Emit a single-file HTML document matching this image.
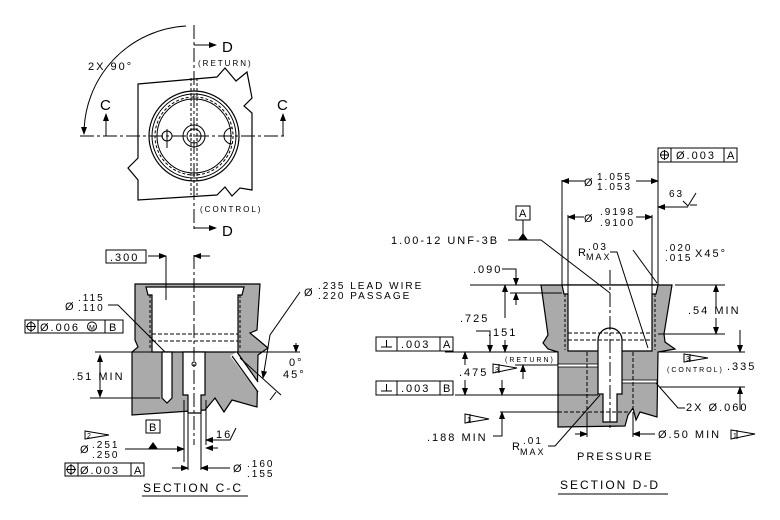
<!DOCTYPE html>
<html><head><meta charset="utf-8"><style>
body{margin:0;background:#fff}
svg{display:block}
text{font-family:"Liberation Sans",sans-serif;letter-spacing:2px;fill:#000}
</style></head><body>
<svg width="780" height="520" viewBox="0 0 780 520" xmlns="http://www.w3.org/2000/svg" font-size="11">
<defs><marker id="a" markerWidth="8" markerHeight="6" refX="7" refY="3" orient="auto" markerUnits="userSpaceOnUse"><path d="M0,0L8,3L0,6z" fill="#000"/></marker></defs>
<g fill="none" stroke="#000" stroke-width="1">
<path d="M138,84 L217,77 L225,68 L236,81 L247,72 L252,98 L244,106 L252,113 L252,190 L240,188 L232,196 L225,187 L217,195 L138,200 L138,180 L128,168 L138,158 Z" stroke-width="1.2"/>
<circle cx="194" cy="136" r="45" stroke-width="1.2"/>
<circle cx="194" cy="136" r="42"/>
<circle cx="194" cy="136" r="39" stroke-dasharray="3,2"/>
<circle cx="194" cy="136" r="37"/>
<circle cx="194" cy="136" r="11"/>
<circle cx="194" cy="136" r="7"/>
<circle cx="167" cy="136" r="5"/>
<path d="M232,128 A8,8 0 0 0 232,144" />
<line x1="167" y1="129" x2="167" y2="148"/>
<line x1="194" y1="25" x2="194" y2="230" stroke-dasharray="14,3,3,3"/>
<line x1="191" y1="78" x2="191" y2="195" stroke-dasharray="3,2"/>
<line x1="197" y1="78" x2="197" y2="195" stroke-dasharray="3,2"/>
<line x1="80" y1="136" x2="285" y2="136" stroke-dasharray="14,3,3,3"/>
<path d="M194,45 L216,45" marker-end="url(#a)"/>
<path d="M194,228 L216,228" marker-end="url(#a)"/>
<path d="M106,136 L106,114" marker-end="url(#a)"/>
<path d="M283,136 L283,114" marker-end="url(#a)"/>
<path d="M186,26 A108,108 0 0 0 84,134" marker-end="url(#a)"/>
</g>
<text x="222" y="52" font-size="15">D</text>
<text x="222" y="236" font-size="15">D</text>
<text x="100" y="110" font-size="15">C</text>
<text x="277" y="110" font-size="15">C</text>
<text x="88" y="70">2X 90°</text>
<text x="198" y="66" font-size="8">(RETURN)</text>
<text x="200" y="212" font-size="8">(CONTROL)</text>

<g stroke="#000" stroke-width="1.2">
<path fill="#aaa" d="M135,284 L260,284 L257,330 L250,333 L268,348 L258,355 L257,407 L232,400 L224,412 L215,398 L205,410 L132,415 L132,352 L138,347 L135,340 Z"/>
<path fill="#fff" d="M146,287 L244,287 L242,295 L238,295 L238,352 L152,352 L152,295 L148,295 Z"/>
<path fill="#fff" d="M237,352 L258,382 L258,392 L230,356 Z" stroke="none"/>
<path fill="none" d="M237,352 L258,382 M232,356 L258,392"/>
<path fill="#fff" d="M162,352 L172,352 L172,398 L167,403 L162,398 Z"/>
<path fill="#fff" d="M183,352 L205,352 L205,395 L201,395 L201,413 L188,413 L188,395 L183,395 Z"/>
</g>
<g fill="none" stroke="#000" stroke-width="1">
<line x1="150" y1="295" x2="150" y2="350" stroke-dasharray="3,2"/>
<line x1="240" y1="295" x2="240" y2="350" stroke-dasharray="3,2"/>
<line x1="152" y1="334" x2="238" y2="334" stroke-dasharray="4,2"/>
<line x1="152" y1="341" x2="238" y2="341" stroke-dasharray="4,2"/>
<circle cx="194" cy="364" r="2"/>
<line x1="194" y1="255" x2="194" y2="445" stroke-dasharray="14,3,3,3"/>
<line x1="166" y1="256" x2="166" y2="300"/>
<path d="M148,256 L166,256" marker-end="url(#a)"/>
<path d="M210,256 L194,256" marker-end="url(#a)"/>
<line x1="95" y1="352" x2="152" y2="352"/>
<line x1="238" y1="352" x2="300" y2="352"/>
<path d="M100,384 L100,355" marker-end="url(#a)"/>
<path d="M100,384 L100,397" marker-end="url(#a)"/>
<line x1="90" y1="398" x2="160" y2="398"/>
<path d="M108,305 L118,305 L165,352"/>
<line x1="184" y1="400" x2="184" y2="462"/>
<line x1="188" y1="413" x2="188" y2="470"/>
<line x1="201" y1="413" x2="201" y2="470"/>
<line x1="206" y1="400" x2="206" y2="445"/>
<path d="M125,449 L184,449" marker-end="url(#a)"/>
<path d="M172,468 L188,468" marker-end="url(#a)"/>
<path d="M230,468 L201,468" marker-end="url(#a)"/>
<path d="M222,440 L206,440" marker-end="url(#a)"/>
<path d="M218,448 L206,448" marker-end="url(#a)"/>
<path d="M215,440 L230,440 L236,428"/>
<path d="M300,292 L270,335 L263,378" marker-end="url(#a)"/>
<path d="M240,358 L281,395"/>
<path d="M276,392 L270,400"/>
<path d="M296,343 L296,352" marker-end="url(#a)"/>
<rect x="106" y="250" width="40" height="13"/>
<rect x="25" y="320" width="98" height="13"/>
<line x1="38" y1="320" x2="38" y2="333"/><line x1="105" y1="320" x2="105" y2="333"/>
<circle cx="31" cy="326.5" r="4"/><line x1="31" y1="321" x2="31" y2="332"/><line x1="26" y1="326.5" x2="36" y2="326.5"/>
<circle cx="92" cy="326.5" r="4.5"/>
<rect x="65" y="463" width="79" height="13"/>
<line x1="78" y1="463" x2="78" y2="476"/><line x1="131" y1="463" x2="131" y2="476"/>
<circle cx="71" cy="469.5" r="4"/><line x1="71" y1="464" x2="71" y2="475"/><line x1="66" y1="469.5" x2="76" y2="469.5"/>
<rect x="146" y="420" width="14" height="13"/>
<path d="M85,431 L109,435 L85,439 Z"/>
<line x1="142" y1="496" x2="248" y2="496"/>
</g>
<path d="M148,449 L153,442 L158,449 Z" fill="#000"/>
<text x="110" y="261">.300</text>
<text x="65" y="310">Ø</text><text x="78" y="301" font-size="10">.115</text><text x="78" y="311" font-size="10">.110</text>
<text x="40" y="331">Ø.006</text><text x="89" y="330" font-size="7" letter-spacing="0">M</text><text x="109" y="331">B</text>
<text x="72" y="380">.51 MIN</text>
<text x="149" y="431">B</text>
<text x="87" y="438" font-size="7">2</text>
<text x="80" y="453">Ø</text><text x="92" y="448" font-size="10">.251</text><text x="92" y="458" font-size="10">.250</text>
<text x="80" y="474">Ø.003</text><text x="134" y="474">A</text>
<text x="216" y="438">16</text>
<text x="233" y="472">Ø</text><text x="247" y="467" font-size="10">.160</text><text x="247" y="477" font-size="10">.155</text>
<text x="143" y="492" font-size="12" letter-spacing="3">SECTION C-C</text>
<text x="304" y="296">Ø</text><text x="318" y="289" font-size="10">.235 LEAD WIRE</text><text x="318" y="299" font-size="10">.220 PASSAGE</text>
<text x="289" y="366">0°</text><text x="283" y="378">45°</text>

<g stroke="#000" stroke-width="1.2">
<path fill="#aaa" d="M541,285 L672,285 L664,334 L665,342 L675,349 L658,352 L657,417 L640,412 L636,420 L633,408 L628,415 L625,426 L558,427 L558,352 L548,349 L543,343 L548,335 Z"/>
<path fill="#fff" d="M562,285 L658,285 L656,294 L652,294 L652,351 L568,351 L568,294 L564,294 Z"/>
</g>
<g stroke="#000" stroke-width="0.8" fill="#fff">
<rect x="558" y="364" width="40" height="3"/>
<rect x="622" y="380" width="35" height="3"/>
</g>
<path fill="#fff" stroke="#000" stroke-width="1.2" d="M598,340 A12,12 0 0 1 622,340 L622,394 L617,394 L617,422 L603,422 L603,394 L598,394 Z"/>
<g fill="none" stroke="#000" stroke-width="1">
<line x1="565" y1="294" x2="565" y2="350" stroke-dasharray="3,2"/>
<line x1="655" y1="294" x2="655" y2="350" stroke-dasharray="3,2"/>
<line x1="568" y1="333" x2="652" y2="333" stroke-dasharray="4,2"/>
<line x1="568" y1="340" x2="652" y2="340" stroke-dasharray="4,2"/>
<line x1="587" y1="352" x2="587" y2="412" stroke-dasharray="4,2"/>
<line x1="633" y1="352" x2="633" y2="412" stroke-dasharray="4,2"/>
<line x1="558" y1="412" x2="630" y2="412" stroke-dasharray="4,2"/>
<line x1="610" y1="270" x2="610" y2="430" stroke-dasharray="14,3,3,3"/>
<line x1="470" y1="285" x2="541" y2="285"/>
<line x1="675" y1="285" x2="725" y2="285"/>
<line x1="510" y1="293" x2="562" y2="293"/>
<line x1="445" y1="352" x2="558" y2="352"/>
<line x1="658" y1="352" x2="745" y2="352"/>
<line x1="455" y1="395" x2="598" y2="395"/>
<line x1="660" y1="387" x2="745" y2="387"/>
<line x1="500" y1="412" x2="560" y2="412"/>
<line x1="658" y1="334" x2="725" y2="334"/>
<line x1="515" y1="365" x2="558" y2="365"/>
<line x1="562" y1="180" x2="562" y2="285"/>
<line x1="658" y1="148" x2="658" y2="285"/>
<line x1="568" y1="215" x2="568" y2="294"/>
<line x1="652" y1="215" x2="652" y2="294"/>
<path d="M585,181 L562,181" marker-end="url(#a)"/>
<path d="M636,181 L658,181" marker-end="url(#a)"/>
<path d="M584,217 L568,217" marker-end="url(#a)"/>
<path d="M636,217 L652,217" marker-end="url(#a)"/>
<path d="M688,207 L658,207" marker-end="url(#a)"/>
<path d="M508,240 L541,240 L610,293"/>
<path d="M610,252 L617,252 L648,348"/>
<path d="M633,250 L657,283"/>
<path d="M502,269 L516,269 L516,285" marker-end="url(#a)"/>
<path d="M516,305 L516,293" marker-end="url(#a)"/>
<path d="M476,331 L490,331 L490,352" marker-end="url(#a)"/>
<path d="M505,318 L505,285" marker-end="url(#a)"/>
<path d="M505,340 L505,352" marker-end="url(#a)"/>
<path d="M465,365 L465,352" marker-end="url(#a)"/>
<path d="M465,380 L465,395" marker-end="url(#a)"/>
<path d="M523,379 L523,365" marker-end="url(#a)"/>
<path d="M502,380 L502,395" marker-end="url(#a)"/>
<path d="M716,307 L716,285" marker-end="url(#a)"/>
<path d="M716,318 L716,334" marker-end="url(#a)"/>
<path d="M740,330 L740,352" marker-end="url(#a)"/>
<path d="M740,410 L740,387" marker-end="url(#a)"/>
<path d="M493,436 L502,436 L502,412" marker-end="url(#a)"/>
<path d="M548,446 L555,446 L600,395"/>
<path d="M656,383 L678,408 L685,408"/>
<line x1="587" y1="412" x2="587" y2="437"/>
<line x1="633" y1="412" x2="633" y2="437"/>
<path d="M575,434 L587,434" marker-end="url(#a)"/>
<path d="M655,434 L633,434" marker-end="url(#a)"/>
<rect x="658" y="148" width="79" height="14"/>
<line x1="671" y1="148" x2="671" y2="162"/><line x1="724" y1="148" x2="724" y2="162"/>
<circle cx="664.5" cy="155" r="4"/><line x1="664.5" y1="150" x2="664.5" y2="160"/><line x1="660" y1="155" x2="669" y2="155"/>
<rect x="516" y="206" width="14" height="14"/>
<line x1="523" y1="220" x2="523" y2="234"/>
<rect x="376" y="337" width="77" height="14"/><line x1="397" y1="337" x2="397" y2="351"/><line x1="440" y1="337" x2="440" y2="351"/>
<path d="M381,347 L392,347 M386.5,340 L386.5,347"/>
<rect x="376" y="381" width="77" height="14"/><line x1="397" y1="381" x2="397" y2="395"/><line x1="440" y1="381" x2="440" y2="395"/>
<path d="M381,391 L392,391 M386.5,384 L386.5,391"/>
<path d="M493,364 L517,368 L493,373 Z"/><line x1="499" y1="364" x2="499" y2="373"/>
<path d="M684,354 L708,358 L684,362 Z"/><line x1="690" y1="354" x2="690" y2="362"/>
<path d="M465,414 L489,419 L465,423 Z"/><line x1="470" y1="414" x2="470" y2="423"/>
<path d="M731,430 L755,434 L731,439 Z"/><line x1="737" y1="430" x2="737" y2="439"/>
<path d="M690,205 L697,205 M683,201 L688,206 L696,193"/>
<line x1="558" y1="494" x2="668" y2="494"/>
</g>
<path d="M518,240 L523,233 L528,240 Z" fill="#000"/>
<text x="676" y="159">Ø.003</text><text x="727" y="159">A</text>
<text x="584" y="186">Ø</text><text x="597" y="180" font-size="10">1.055</text><text x="597" y="190" font-size="10">1.053</text>
<text x="669" y="197" font-size="10">63</text>
<text x="519" y="217">A</text>
<text x="584" y="222">Ø</text><text x="600" y="215" font-size="10">.9198</text><text x="600" y="226" font-size="10">.9100</text>
<text x="391" y="244">1.00-12 UNF-3B</text>
<text x="578" y="256">R</text><text x="588" y="250" font-size="10">.03</text><text x="586" y="260" font-size="9" letter-spacing="0.5">MAX</text>
<text x="665" y="251" font-size="10">.020</text><text x="665" y="261" font-size="10">.015</text><text x="695" y="257">X45°</text>
<text x="473" y="273">.090</text>
<text x="460" y="322">.725</text>
<text x="688" y="314">.54 MIN</text>
<text x="488" y="336">.151</text>
<text x="401" y="348">.003</text><text x="443" y="348">A</text>
<text x="505" y="362" font-size="7">(RETURN)</text>
<text x="459" y="376">.475</text>
<text x="495" y="372" font-size="7">3</text>
<text x="686" y="361" font-size="7">3</text>
<text x="667" y="372" font-size="7">(CONTROL)</text><text x="727" y="370">.335</text>
<text x="401" y="392">.003</text><text x="443" y="392">B</text>
<text x="686" y="411">2X Ø.060</text>
<text x="467" y="422" font-size="7">1</text>
<text x="427" y="441">.188 MIN</text>
<text x="512" y="450">R</text><text x="523" y="444" font-size="10">.01</text><text x="520" y="455" font-size="9" letter-spacing="0.5">MAX</text>
<text x="658" y="438">Ø.50 MIN</text>
<text x="733" y="438" font-size="7">1</text>
<text x="577" y="460">PRESSURE</text>
<text x="560" y="489" font-size="12" letter-spacing="3">SECTION D-D</text>
</svg>
</body></html>
